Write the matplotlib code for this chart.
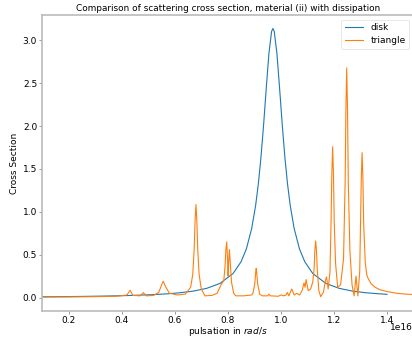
import matplotlib
matplotlib.use("Agg")
import matplotlib.pyplot as plt
from matplotlib.ticker import FuncFormatter
import numpy as np

# disk series (x in units of 1e16 rad/s)
disk_x = [0.10, 0.15, 0.25, 0.35, 0.42, 0.52, 0.57, 0.62, 0.67, 0.72, 0.77, 0.82, 0.85,
          0.87, 0.89, 0.905, 0.915, 0.925, 0.935, 0.945, 0.955, 0.965, 0.97, 0.975,
          0.985, 0.995, 1.005, 1.015, 1.025, 1.035, 1.05, 1.07, 1.09, 1.12, 1.17, 1.22,
          1.27, 1.32, 1.36, 1.40]
disk_y = [0.009, 0.010, 0.013, 0.018, 0.023, 0.034, 0.043, 0.056, 0.075, 0.107, 0.164, 0.281, 0.418,
          0.568, 0.806, 1.078, 1.325, 1.638, 2.020, 2.448, 2.850, 3.105, 3.140, 3.105,
          2.850, 2.448, 2.020, 1.638, 1.325, 1.078, 0.806, 0.568, 0.418, 0.281, 0.164, 0.107,
          0.075, 0.056, 0.046, 0.037]

# triangle series
tri_x = [0.10, 0.20, 0.30, 0.38, 0.42, 0.432, 0.442, 0.47, 0.482, 0.492, 0.52, 0.54,
         0.552, 0.557, 0.565, 0.58, 0.61, 0.64, 0.660, 0.668, 0.673, 0.677, 0.680, 0.683,
         0.687, 0.692, 0.700, 0.714, 0.74, 0.76, 0.773, 0.785, 0.790, 0.793, 0.796, 0.799,
         0.801, 0.803, 0.806, 0.809, 0.814, 0.822, 0.83, 0.86, 0.89, 0.895, 0.902, 0.905,
         0.907, 0.909, 0.912, 0.920, 0.93, 0.95, 0.955, 0.96, 0.99, 1.00, 1.01, 1.02,
         1.024, 1.03, 1.041, 1.05, 1.06, 1.07, 1.08, 1.087, 1.091, 1.095, 1.103, 1.112,
         1.120, 1.125, 1.128, 1.131, 1.134, 1.137, 1.143, 1.150, 1.160, 1.168, 1.172, 1.178,
         1.185, 1.189, 1.192, 1.195, 1.198, 1.201, 1.206, 1.214, 1.225, 1.236, 1.242, 1.245,
         1.248, 1.251, 1.254, 1.260, 1.268, 1.276, 1.283, 1.290, 1.297, 1.300, 1.303, 1.306,
         1.309, 1.312, 1.318, 1.324, 1.329, 1.340, 1.355, 1.374, 1.40, 1.436, 1.47, 1.50]
tri_y = [0.005, 0.007, 0.010, 0.015, 0.030, 0.085, 0.025, 0.020, 0.058, 0.020, 0.025, 0.060,
         0.160, 0.190, 0.130, 0.050, 0.030, 0.040, 0.120, 0.270, 0.540, 0.920, 1.086, 0.920,
         0.540, 0.270, 0.100, 0.020, 0.025, 0.050, 0.140, 0.200, 0.380, 0.570, 0.650, 0.450,
         0.250, 0.400, 0.560, 0.420, 0.180, 0.050, 0.020, 0.020, 0.030, 0.050, 0.170, 0.290,
         0.340, 0.290, 0.170, 0.040, 0.020, 0.020, 0.040, 0.020, 0.015, 0.030, 0.020, 0.030,
         0.060, 0.020, 0.100, 0.030, 0.050, 0.030, 0.080, 0.170, 0.120, 0.210, 0.080, 0.100,
         0.180, 0.330, 0.550, 0.660, 0.550, 0.330, 0.080, 0.010, 0.060, 0.200, 0.240, 0.100,
         0.300, 0.880, 1.450, 1.760, 1.450, 0.880, 0.400, 0.120, 0.150, 0.450, 1.340, 2.200,
         2.680, 2.200, 1.340, 0.550, 0.150, 0.020, 0.250, 0.020, 0.300, 0.850, 1.400, 1.690,
         1.400, 0.850, 0.400, 0.260, 0.220, 0.160, 0.120, 0.090, 0.070, 0.050, 0.040, 0.035]

scale = 1e16
x_ticks = [0.2, 0.4, 0.6, 0.8, 1.0, 1.2, 1.4]
y_ticks = [0.0, 0.5, 1.0, 1.5, 2.0, 2.5, 3.0]
title = "Comparison of scattering cross section, material (ii) with dissipation"
xlabel = "pulsation in $rad/s$"
ylabel = "Cross Section"

plt.rcParams['font.family'] = ['DejaVu Sans']
fs = 6.5

fig = plt.figure(figsize=(4.12, 3.37), dpi=100)
ax = fig.add_axes([42/412, 26/337, 371.6/412, 296/337])

ax.plot(np.array(disk_x) * scale, disk_y, color='#1f77b4', lw=0.8, label='disk')
ax.plot(np.array(tri_x) * scale, tri_y, color='#ff7f0e', lw=0.8, label='triangle')

ax.set_xlim(0.1 * scale, 1.5 * scale)
ax.set_ylim(-0.157, 3.297)
ax.set_xticks(np.array(x_ticks) * scale)
ax.xaxis.set_major_formatter(FuncFormatter(lambda v, p: f"{v/scale:.1f}"))
ax.set_yticks(y_ticks)

ax.set_title(title, fontsize=6.4, pad=3)
ax.set_xlabel(xlabel, fontsize=fs)
ax.xaxis.set_label_coords((227.5 - 42) / 371.6, -14.5 / 296)
ax.set_ylabel(ylabel, fontsize=fs, labelpad=3)
ax.tick_params(labelsize=fs, length=2, width=0.6, color='#888888', pad=1.5)
fig.text(413/412, 1 - 327/337, "1e16", fontsize=fs, ha='right', va='center')

for s in ax.spines.values():
    s.set_color('#bbbbbb')
    s.set_linewidth(1.2)

leg = ax.legend(loc='upper right', fontsize=fs, frameon=True, fancybox=True,
                handlelength=2.0, borderpad=0.4, labelspacing=0.45)
leg.get_frame().set_edgecolor('#dddddd')
leg.get_frame().set_linewidth(0.6)

fig.savefig('out.png', dpi=100)
